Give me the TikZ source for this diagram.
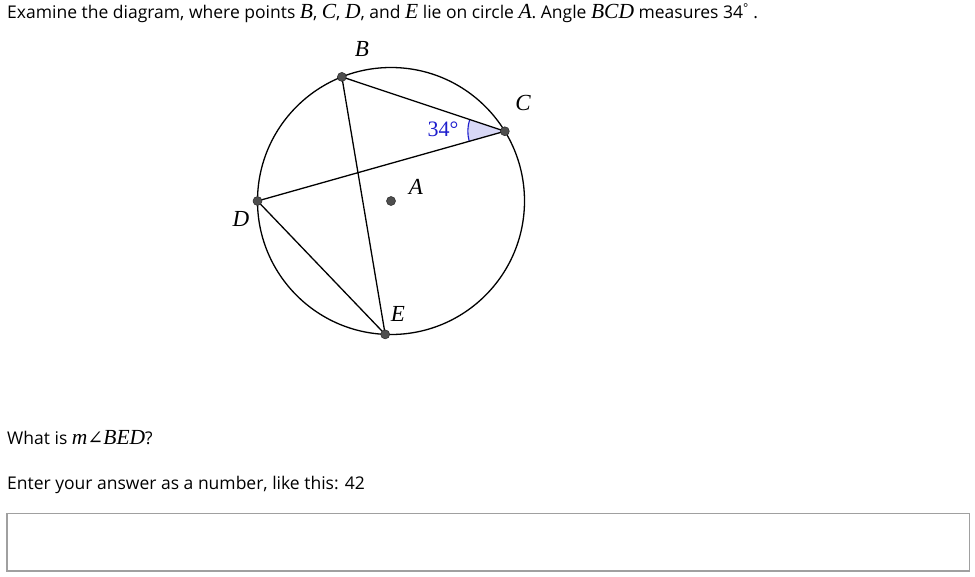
\documentclass[tikz,border=0pt]{standalone}
\usepackage[no-math]{fontspec}
\setmainfont{Open Sans}
\newfontfamily\geoserif{Liberation Serif}
\newfontfamily\geosym{DejaVu Serif}
\usepackage{xcolor}
\usepackage{tikz}
\usetikzlibrary{positioning,calc,angles}
\definecolor{GeoBlue}{RGB}{30,30,205}
\definecolor{GeoFill}{RGB}{216,216,246}
\definecolor{DotGray}{RGB}{78,78,78}
\definecolor{BoxGray}{RGB}{160,160,160}
\newcommand{\gl}[1]{{\geoserif\itshape\fontsize{21.5}{21}\selectfont #1}}
\tikzset{
    ptdot/.style={circle, draw=black!85, fill=DotGray, line width=0.5pt, minimum size=9pt, inner sep=0pt},
    ptlabel/.style={inner sep=0pt, font=\geoserif\itshape\fontsize{23}{24}\selectfont},
    prompt/.style={anchor=base west, inner sep=0pt, font=\fontsize{17.5}{21}\selectfont},
    chord/.style={draw=black, line width=1.3pt}
}

\begin{document}
\begin{tikzpicture}[
                x=1pt, y=1pt,
                rim/.style={draw=black, line width=1.3pt},
                wedge/.style={draw=GeoBlue, fill=GeoFill, line width=1.1pt, angle radius=37pt},
                answerbox/.style={draw=BoxGray, line width=1.2pt}
            ]
                \useasboundingbox (0,0) rectangle (975,-576);
                \node[prompt] (header) at (7,-18.5) {Examine the diagram, where points \gl{B}, \gl{C}, \gl{D}, and \gl{E} lie on circle \gl{A}. Angle \gl{BCD} measures 34\textsuperscript{°} .};
                \coordinate (A) at (391,-201);
                \coordinate (B) at ($(A)+(111.6:133.5pt)$);
                \coordinate (C) at ($(A)+(31.5:133.5pt)$);
                \coordinate (D) at ($(A)+(180:133.5pt)$);
                \coordinate (E) at ($(A)+(267.5:133.5pt)$);
                \draw[rim] (A) circle[radius=133.5pt];
                \pic[wedge] {angle=B--C--D};
                \draw[chord] (B) -- (E);
                \draw[chord] (D) -- (C) -- (B);
                \draw[chord] (D) -- (E);
                \node[ptdot] (dotA) at (A) {};
                \node[ptdot] (dotB) at (B) {};
                \node[ptdot] (dotC) at (C) {};
                \node[ptdot] (dotD) at (D) {};
                \node[ptdot] (dotE) at (E) {};
                \node[ptlabel, font=\geoserif\fontsize{22}{24}\selectfont, text=GeoBlue] (ang) at (443,-129) {34°};
                \node[ptlabel] (labA) at (416,-187) {A};
                \node[ptlabel] (labB) at (362,-49) {B};
                \node[ptlabel] (labC) at (523,-103) {C};
                \node[ptlabel] (labD) at (241,-219) {D};
                \node[ptlabel] (labE) at (398,-314) {E};
                \node[prompt] (question) at (7,-444.5) {What is \gl{m}{\geosym\fontsize{19}{21}\selectfont ∠}\gl{BED}?};
                \node[prompt] (hint) at (7,-489) {Enter your answer as a number, like this: 42};
                \draw[answerbox] (7,-513.5) rectangle (969.5,-571);
            \end{tikzpicture}
\end{document}
